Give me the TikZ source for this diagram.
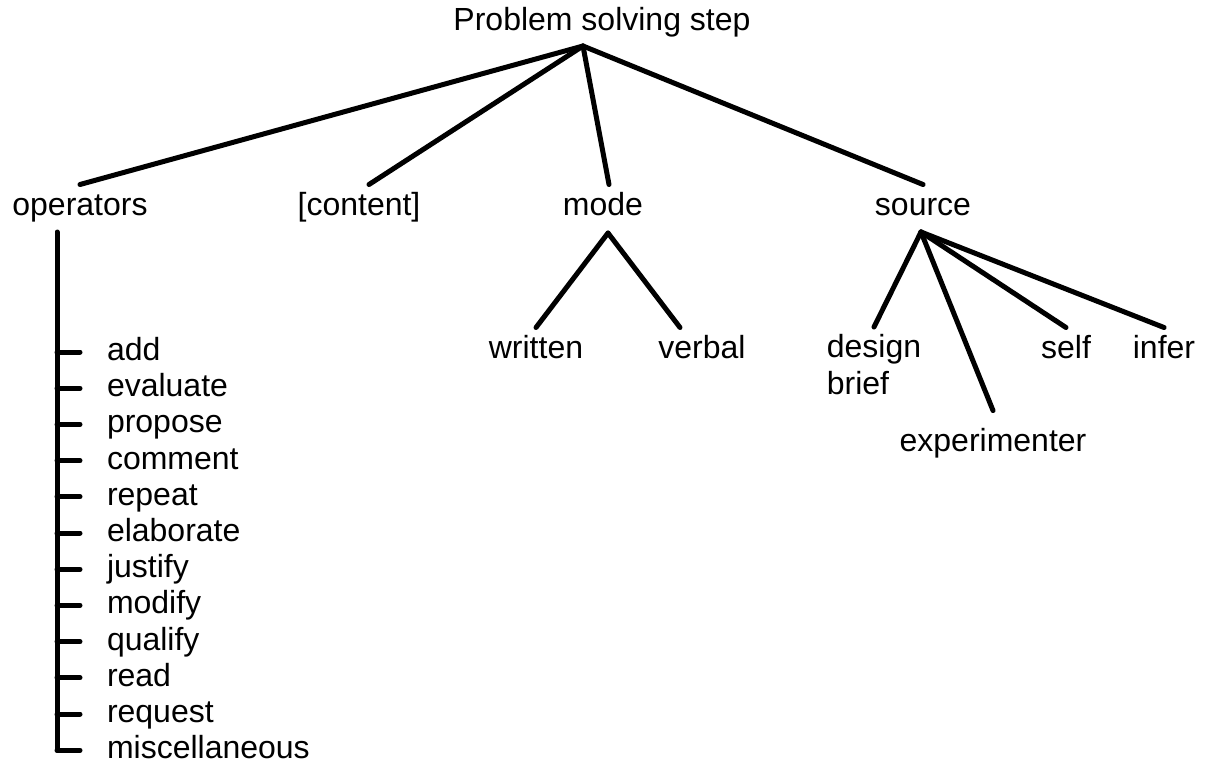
\documentclass[tikz,border=0pt]{standalone}
\usepackage{fontspec}
\setmainfont{Liberation Sans}
\usepackage{tikz}
\usetikzlibrary{positioning}
\tikzset{
    base/.style={font=\fontsize{16}{18.5}\selectfont, inner sep=0pt, outer sep=3.5pt},
    term/.style={base, text height=12pt, text depth=3.5pt},
    multi/.style={base, align=left},
    branch/.style={line width=2.5pt, line cap=round}
}

\begin{document}
\begin{tikzpicture}[x=0.5pt, y=-0.5pt]
  \useasboundingbox (0,0) rectangle (1215,766);

  % Root of the tree
  \node[term] (root) at (602,22) {Problem solving step};
  \coordinate (rootFork) at (583,46);

  % Second level
  \node[term] (ops) at (80,207) {operators};
  \node[term] (content) at (359,207) {[content]};
  \node[term] (mode) at (603,207) {mode};
  \node[term] (source) at (923,207) {source};

  \draw[branch] (rootFork) -- (ops.north);
  \draw[branch] (rootFork) -- ([xshift=5pt]content.north);
  \draw[branch] (rootFork) -- ([xshift=3pt]mode.north);
  \draw[branch] (rootFork) -- (source.north);

  % Mode branch
  \coordinate (modeFork) at (608,233);
  \node[term] (written) at (536,350) {written};
  \node[term] (verbal) at (702,350) {verbal};

  \draw[branch] (modeFork) -- (written.north);
  \draw[branch] (modeFork) -- ([xshift=-11pt]verbal.north);

  % Source branch
  \coordinate (srcFork) at (921,232);
  \node[multi, anchor=north] (design) at (874,327) {design\\brief};
  \node[term] (exper) at (993,443) {experimenter};
  \node[term] (self) at (1066,350) {self};
  \node[term] (infer) at (1164,350) {infer};

  \draw[branch] (srcFork) -- (design.north);
  \draw[branch] (srcFork) -- ([yshift=5pt]exper.north);
  \draw[branch] (srcFork) -- (self.north);
  \draw[branch] (srcFork) -- (infer.north);

  % Operators list
  \coordinate (opsTrunk) at (57,232);
  \foreach \op [count=\i from 0] in {add,evaluate,propose,comment,repeat,elaborate,justify,modify,qualify,read,request,miscellaneous} {
    \node[term, anchor=west] (op\i) at (100,{352+36.2*\i}) {\op};
    \draw[branch] (opsTrunk |- op\i) -- ([xshift=-10pt]op\i.west);
  }
  \draw[branch] (opsTrunk) -- (opsTrunk |- op11);
\end{tikzpicture}
\end{document}
